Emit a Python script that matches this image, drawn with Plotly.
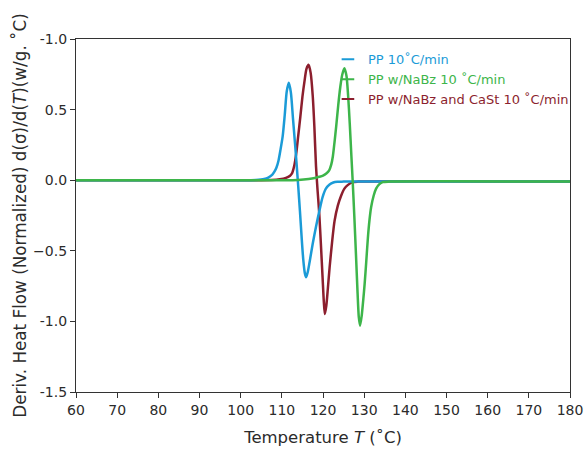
import plotly.graph_objects as go

# ---- data ----
pp_x = [60, 100, 103.7, 105.7, 106.7, 107.7, 108.2, 108.7, 109.2, 109.7, 110.2, 110.7, 111.2, 111.7,
        112.2, 112.7, 113.2, 113.6, 114.0, 114.4, 114.8, 115.2, 115.6, 115.9, 116.3, 116.8, 117.5,
        118.3, 119.1, 119.9, 120.7, 121.6, 122.5, 123.5, 125, 180]
pp_y = [0, 0, 0.002, 0.008, 0.018, 0.04, 0.06, 0.09, 0.14, 0.22, 0.31, 0.46, 0.63, 0.69,
        0.62, 0.44, 0.26, 0.11, -0.05, -0.22, -0.40, -0.56, -0.66, -0.687, -0.65, -0.57, -0.45,
        -0.33, -0.22, -0.12, -0.06, -0.03, -0.016, -0.011, -0.01, -0.01]

nabz_x = [60, 110, 114, 116.5, 118, 119.1, 120.0, 120.8, 121.5, 122.0, 122.4, 122.8, 123.2, 123.7,
          124.2, 124.7, 125.2, 125.7, 126.1, 126.5, 126.9, 127.2, 127.6, 128.0, 128.4, 128.7, 129.0,
          129.4, 129.8, 130.1, 130.5, 130.9, 131.3, 131.7, 132.3, 132.9, 133.7, 134.5, 136, 180]
nabz_y = [0, 0, 0.002, 0.008, 0.015, 0.024, 0.033, 0.048, 0.07, 0.11, 0.17, 0.27, 0.38, 0.53,
          0.66, 0.75, 0.793, 0.74, 0.60, 0.40, 0.17, 0.0, -0.25, -0.52, -0.80, -0.97, -1.03,
          -0.96, -0.84, -0.74, -0.58, -0.41, -0.28, -0.19, -0.11, -0.06, -0.028, -0.014, -0.01, -0.01]

nacast_x = [60, 104, 107.5, 109.5, 111.0, 112.0, 112.5, 113.0, 113.5, 114.0, 114.5, 115.0, 115.5,
            116.0, 116.5, 117.0, 117.5, 117.9, 118.3, 118.7, 119.1, 119.5, 119.9, 120.2, 120.45,
            120.8, 121.2, 121.6, 122.2, 122.8, 123.6, 124.4, 125.2, 126.0, 127.2, 128.5, 180]
nacast_y = [0, 0, 0.001, 0.006, 0.016, 0.032, 0.05, 0.10, 0.19, 0.32, 0.45, 0.59, 0.70,
            0.79, 0.817, 0.76, 0.60, 0.38, 0.10, -0.08, -0.24, -0.46, -0.69, -0.86, -0.947,
            -0.89, -0.76, -0.62, -0.44, -0.29, -0.18, -0.11, -0.06, -0.035, -0.014, -0.01, -0.01]

series_names = ["PP 10˚C/min", "PP w/NaBz 10 ˚C/min", "PP w/NaBz and CaSt 10 ˚C/min"]
series_colors = ["#1b9bd7", "#3db54a", "#8c1f2e"]

x_ticks = list(range(60, 181, 10))
y_tickvals = [1.0, 0.5, 0.0, -0.5, -1.0, -1.5]
y_ticktext = ["-1.0", "0.5", "0.0", "\u22120.5", "-1.0", "-1.5"]

FONT = "DejaVu Sans"
TXT = "#2b2b2b"

fig = go.Figure()

# draw order: maroon, blue, green (green on top)
curves = [
    (nacast_x, nacast_y, 2),
    (pp_x, pp_y, 0),
    (nabz_x, nabz_y, 1),
]
for xs, ys, i in curves:
    fig.add_trace(go.Scatter(
        x=xs, y=ys, mode="lines", name=series_names[i],
        line=dict(color=series_colors[i], width=2.5, shape="spline", smoothing=0.7),
        showlegend=False, hoverinfo="skip",
    ))

# legend entries with short dash symbols and coloured text
for i in range(3):
    fig.add_trace(go.Scatter(
        x=[None], y=[None], mode="markers",
        name=f"<span style='color:{series_colors[i]}'>{series_names[i]}</span>",
        marker=dict(symbol="line-ew", size=9, line=dict(color=series_colors[i], width=2)),
        legendrank=i + 1,
    ))

fig.update_layout(
    width=587, height=453,
    margin=dict(l=76, r=17, t=39, b=61, autoexpand=False),
    paper_bgcolor="white", plot_bgcolor="white",
    font=dict(family=FONT, color=TXT, size=13),
    legend=dict(
        x=0.51, y=0.985, xanchor="left", yanchor="top",
        bgcolor="rgba(0,0,0,0)", borderwidth=0,
        font=dict(size=13, family=FONT),
        itemwidth=30, tracegroupgap=0,
    ),
    showlegend=True,
)

fig.update_xaxes(
    range=[60, 180], tickvals=x_ticks, ticks="outside", ticklen=5, tickwidth=1,
    tickcolor="#333", showline=True, linecolor="#333", linewidth=1.3, mirror=True,
    showgrid=False, zeroline=False, automargin=False,
    tickfont=dict(size=14, color=TXT),
    title=dict(text="Temperature <i>T</i> (˚C)", font=dict(size=16.5, color=TXT), standoff=14),
)
fig.update_yaxes(
    range=[-1.5, 1.0], tickvals=y_tickvals, ticktext=y_ticktext, ticks="outside",
    ticklen=5, tickwidth=1, tickcolor="#333", showline=True, linecolor="#333",
    linewidth=1.3, mirror=True, showgrid=False, zeroline=False, automargin=False,
    tickfont=dict(size=14, color=TXT),
    title=dict(text="Deriv. Heat Flow (Normalized) d(σ)/d(<i>T</i>)(w/g. ˚C)",
               font=dict(size=16.8, color=TXT), standoff=2),
)

fig.write_html("out.html", config={"displayModeBar": False},
               post_script="document.body.style.margin='0px';")
